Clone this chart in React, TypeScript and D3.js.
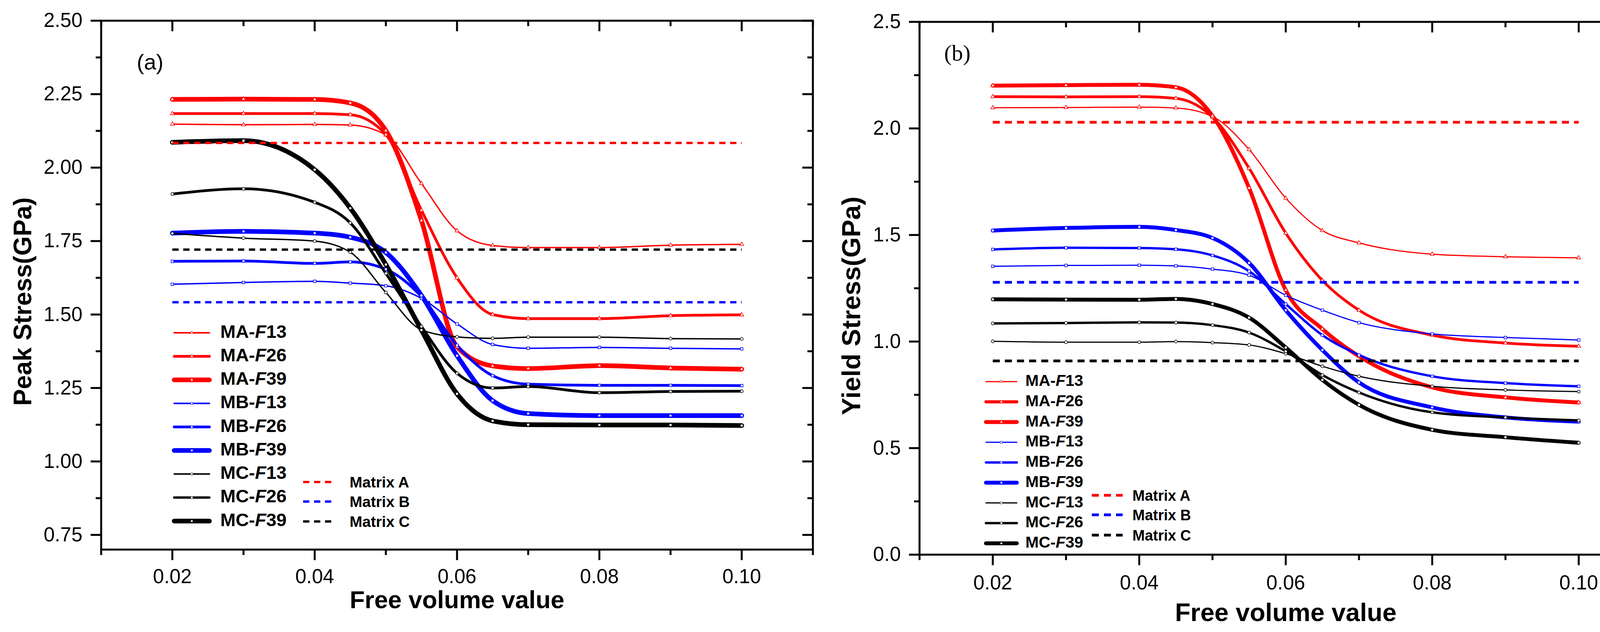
import React from "react";
import * as d3 from "d3";

// free volume values where the curves were sampled
const freeVolume = [0.02, 0.03, 0.04, 0.045, 0.05, 0.055, 0.06, 0.065, 0.07, 0.08, 0.09, 0.1];

// (a) peak stress, GPa
const peakMAF13 = [2.148, 2.146, 2.147, 2.145, 2.111, 1.946, 1.785, 1.735, 1.728, 1.728, 1.736, 1.739];
const peakMAF26 = [2.184, 2.184, 2.184, 2.18, 2.112, 1.855, 1.625, 1.5, 1.486, 1.486, 1.496, 1.499];
const peakMAF39 = [2.232, 2.233, 2.232, 2.22, 2.126, 1.82, 1.39, 1.325, 1.316, 1.326, 1.318, 1.314];
const peakMBF13 = [1.603, 1.609, 1.613, 1.607, 1.598, 1.555, 1.468, 1.398, 1.385, 1.388, 1.385, 1.383];
const peakMBF26 = [1.681, 1.682, 1.674, 1.679, 1.654, 1.561, 1.395, 1.292, 1.263, 1.259, 1.259, 1.258];
const peakMBF39 = [1.777, 1.783, 1.777, 1.763, 1.711, 1.565, 1.36, 1.207, 1.163, 1.156, 1.156, 1.156];
const peakMCF13 = [1.776, 1.76, 1.75, 1.712, 1.575, 1.448, 1.424, 1.419, 1.423, 1.423, 1.418, 1.417];
const peakMCF26 = [1.91, 1.928, 1.882, 1.812, 1.64, 1.459, 1.3, 1.25, 1.255, 1.234, 1.238, 1.239];
const peakMCF39 = [2.086, 2.092, 1.993, 1.862, 1.67, 1.447, 1.23, 1.138, 1.125, 1.124, 1.124, 1.122];
const peakMatrix = [2.084, 1.542, 1.721]; // A, B, C

// (b) yield stress, GPa
const yieldMAF13 = [2.097, 2.098, 2.1, 2.096, 2.056, 1.901, 1.673, 1.521, 1.463, 1.41, 1.398, 1.393];
const yieldMAF26 = [2.149, 2.148, 2.149, 2.141, 2.053, 1.813, 1.509, 1.287, 1.147, 1.03, 0.993, 0.978];
const yieldMAF39 = [2.201, 2.203, 2.205, 2.193, 2.059, 1.72, 1.241, 1.059, 0.931, 0.785, 0.738, 0.714];
const yieldMBF13 = [1.353, 1.357, 1.358, 1.355, 1.34, 1.311, 1.217, 1.147, 1.089, 1.036, 1.019, 1.007];
const yieldMBF26 = [1.432, 1.44, 1.439, 1.433, 1.404, 1.33, 1.176, 1.03, 0.937, 0.837, 0.805, 0.79];
const yieldMBF39 = [1.521, 1.533, 1.538, 1.523, 1.486, 1.369, 1.147, 0.96, 0.808, 0.691, 0.644, 0.624];
const yieldMCF13 = [1.001, 0.997, 0.997, 1.0, 0.995, 0.984, 0.943, 0.884, 0.837, 0.79, 0.773, 0.765];
const yieldMCF26 = [1.085, 1.087, 1.09, 1.089, 1.077, 1.042, 0.954, 0.843, 0.761, 0.668, 0.644, 0.63];
const yieldMCF39 = [1.198, 1.197, 1.196, 1.2, 1.176, 1.112, 0.972, 0.82, 0.703, 0.586, 0.551, 0.525];
const yieldMatrix = [2.029, 1.278, 0.909];

const seriesGroups = ["MA", "MA", "MA", "MB", "MB", "MB", "MC", "MC", "MC"];
const seriesF = ["13", "26", "39", "13", "26", "39", "13", "26", "39"];
const matrixNames = ["Matrix A", "Matrix B", "Matrix C"];

const xMajor = [0.02, 0.04, 0.06, 0.08, 0.1];
const xMinor = [0.01, 0.03, 0.05, 0.07, 0.09, 0.11];
const peakYMajor = [0.75, 1.0, 1.25, 1.5, 1.75, 2.0, 2.25, 2.5];
const peakYMinor = [0.875, 1.125, 1.375, 1.625, 1.875, 2.125, 2.375];
const yieldYMajor = [0, 0.5, 1.0, 1.5, 2.0, 2.5];
const yieldYMinor = [0.25, 0.75, 1.25, 1.75, 2.25];

const SANS = "'Liberation Sans', Arial, Helvetica, sans-serif";
const SERIF = "'Liberation Serif', 'Times New Roman', serif";
const groupColor: Record<string, string> = { MA: "#ff0000", MB: "#0000ff", MC: "#000000" };
const groupSymbol: Record<string, d3.SymbolType> = {
  MA: d3.symbolTriangle,
  MB: d3.symbolSquare,
  MC: d3.symbolCircle,
};

interface PanelProps {
  box: { left: number; right: number; top: number; bottom: number };
  yDomain: [number, number];
  yMajor: number[];
  yMinor: number[];
  yFmt: string;
  series: number[][];
  widths: number[];
  matrix: number[];
  dash: { w: number; pattern: string };
  tag: { text: string; x: number; y: number; size: number; family: string };
  yTitle: { text: string; x: number; y: number; size: number };
  xTitle: { y: number; size: number };
  tickLabelY: number;
  legend: { lineX0: number; lineX1: number; textX: number; y0: number; step: number; size: number; widths: number[] };
  matLegend: { lineX0: number; lineX1: number; textX: number; rows: number[]; size: number };
}

function Panel(p: PanelProps) {
  const { box } = p;
  const x = d3.scaleLinear().domain([0.01, 0.11]).range([box.left, box.right]);
  const y = d3.scaleLinear().domain(p.yDomain).range([box.bottom, box.top]);
  const line = d3
    .line<number>()
    .x((_, i) => x(freeVolume[i]))
    .y((d) => y(d))
    .curve(d3.curveMonotoneX);
  const fmtX = d3.format(".2f");
  const fmtY = d3.format(p.yFmt);
  const major = 27;
  const minor = 14;
  const sw = 5;
  const matrixColors = [groupColor.MA, groupColor.MB, groupColor.MC];

  return (
    <g>
      {/* series curves */}
      {p.series.map((vals, i) => (
        <path
          key={"s" + i}
          d={line(vals) ?? ""}
          fill="none"
          stroke={groupColor[seriesGroups[i]]}
          strokeWidth={p.widths[i]}
          strokeLinejoin="round"
          strokeLinecap="round"
        />
      ))}
      {/* hollow markers */}
      {p.series.map((vals, i) =>
        vals.map((v, j) => (
          <path
            key={"m" + i + "-" + j}
            d={d3.symbol(groupSymbol[seriesGroups[i]], 45)() ?? ""}
            transform={`translate(${x(freeVolume[j])},${y(v)})`}
            fill="#fff"
            stroke={groupColor[seriesGroups[i]]}
            strokeWidth={1.5}
          />
        ))
      )}
      {/* matrix reference lines */}
      {p.matrix.map((v, i) => (
        <line
          key={"mx" + i}
          x1={x(0.02)}
          x2={x(0.1)}
          y1={y(v)}
          y2={y(v)}
          stroke={matrixColors[i]}
          strokeWidth={p.dash.w}
          strokeDasharray={p.dash.pattern}
        />
      ))}

      {/* frame */}
      <rect
        x={box.left}
        y={box.top}
        width={box.right - box.left}
        height={box.bottom - box.top}
        fill="none"
        stroke="#000"
        strokeWidth={sw}
      />
      {/* x ticks: outward at bottom, inward at top */}
      {xMajor.concat(xMinor).map((t, i) => {
        const len = i < xMajor.length ? major : minor;
        return (
          <g key={"xt" + i}>
            <line x1={x(t)} x2={x(t)} y1={box.bottom} y2={box.bottom + len} stroke="#000" strokeWidth={sw} />
            <line x1={x(t)} x2={x(t)} y1={box.top} y2={box.top + len} stroke="#000" strokeWidth={sw} />
          </g>
        );
      })}
      {xMajor.map((t) => (
        <text key={"xl" + t} x={x(t)} y={p.tickLabelY} textAnchor="middle" fontFamily={SANS} fontSize={51}>
          {fmtX(t)}
        </text>
      ))}
      {/* y ticks: outward at left, inward at right */}
      {p.yMajor.concat(p.yMinor).map((t, i) => {
        const len = i < p.yMajor.length ? major : minor;
        return (
          <g key={"yt" + i}>
            <line x1={box.left - len} x2={box.left} y1={y(t)} y2={y(t)} stroke="#000" strokeWidth={sw} />
            <line x1={box.right - len} x2={box.right} y1={y(t)} y2={y(t)} stroke="#000" strokeWidth={sw} />
          </g>
        );
      })}
      {p.yMajor.map((t) => (
        <text
          key={"yl" + t}
          x={box.left - major - 21}
          y={y(t)}
          dy="0.32em"
          textAnchor="end"
          fontFamily={SANS}
          fontSize={51}
        >
          {fmtY(t)}
        </text>
      ))}

      {/* titles */}
      <text
        transform={`translate(${p.yTitle.x},${p.yTitle.y}) rotate(-90)`}
        textAnchor="middle"
        fontFamily={SANS}
        fontWeight="bold"
        fontSize={p.yTitle.size}
      >
        {p.yTitle.text}
      </text>
      <text
        x={(box.left + box.right) / 2}
        y={p.xTitle.y}
        textAnchor="middle"
        fontFamily={SANS}
        fontWeight="bold"
        fontSize={p.xTitle.size}
      >
        Free volume value
      </text>
      <text x={p.tag.x} y={p.tag.y} fontFamily={p.tag.family} fontSize={p.tag.size}>
        {p.tag.text}
      </text>

      {/* series legend */}
      {seriesGroups.map((g, i) => {
        const ly = p.legend.y0 + i * p.legend.step;
        const cx = (p.legend.lineX0 + p.legend.lineX1) / 2;
        return (
          <g key={"lg" + i}>
            <line
              x1={p.legend.lineX0}
              x2={p.legend.lineX1}
              y1={ly}
              y2={ly}
              stroke={groupColor[g]}
              strokeWidth={p.legend.widths[i]}
              strokeLinecap="round"
            />
            <path
              d={d3.symbol(groupSymbol[g], 30)() ?? ""}
              transform={`translate(${cx},${ly})`}
              fill="#fff"
              stroke={groupColor[g]}
              strokeWidth={1}
            />
            <text
              x={p.legend.textX}
              y={ly}
              dy="0.27em"
              fontFamily={SANS}
              fontWeight="bold"
              fontSize={p.legend.size}
            >
              {g + "-"}
              <tspan fontStyle="italic">F</tspan>
              {seriesF[i]}
            </text>
          </g>
        );
      })}
      {/* matrix legend */}
      {matrixNames.map((name, i) => {
        const ly = p.matLegend.rows[i];
        return (
          <g key={"ml" + i}>
            <line
              x1={p.matLegend.lineX0}
              x2={p.matLegend.lineX1}
              y1={ly}
              y2={ly}
              stroke={matrixColors[i]}
              strokeWidth={p.dash.w}
              strokeDasharray={p.dash.pattern}
            />
            <text
              x={p.matLegend.textX}
              y={ly}
              dy="0.36em"
              fontFamily={SANS}
              fontWeight="bold"
              fontSize={p.matLegend.size}
            >
              {name}
            </text>
          </g>
        );
      })}
    </g>
  );
}

export default function App() {
  return (
    <svg
      width={4268}
      height={1618}
      viewBox="0 0 4268 1618"
      style={{ position: "absolute", left: 0, top: 0, background: "#fff" }}
    >
      <rect width={4268} height={1618} fill="#fff" />
      <Panel
        box={{ left: 259, right: 2081, top: 53, bottom: 1407 }}
        yDomain={[0.7, 2.5]}
        yMajor={peakYMajor}
        yMinor={peakYMinor}
        yFmt=".2f"
        series={[peakMAF13, peakMAF26, peakMAF39, peakMBF13, peakMBF26, peakMBF39, peakMCF13, peakMCF26, peakMCF39]}
        widths={[3.5, 7, 12, 3.5, 7, 12, 3.5, 7, 12]}
        matrix={peakMatrix}
        dash={{ w: 6, pattern: "16,12" }}
        tag={{ text: "(a)", x: 350, y: 178, size: 56, family: SANS }}
        yTitle={{ text: "Peak Stress(GPa)", x: 80, y: 772, size: 64 }}
        xTitle={{ y: 1557, size: 63 }}
        tickLabelY={1493}
        legend={{ lineX0: 446, lineX1: 536, textX: 564, y0: 852, step: 60.25, size: 47, widths: [4, 7, 12, 4, 7, 12, 4, 6, 12] }}
        matLegend={{ lineX0: 776, lineX1: 849, textX: 895, rows: [1234, 1284, 1335], size: 39 }}
      />
      <Panel
        box={{ left: 2354, right: 4229, top: 56, bottom: 1420 }}
        yDomain={[0, 2.5]}
        yMajor={yieldYMajor}
        yMinor={yieldYMinor}
        yFmt=".1f"
        series={[yieldMAF13, yieldMAF26, yieldMAF39, yieldMBF13, yieldMBF26, yieldMBF39, yieldMCF13, yieldMCF26, yieldMCF39]}
        widths={[3, 7, 10, 3, 6, 10, 3, 6, 10]}
        matrix={yieldMatrix}
        dash={{ w: 7, pattern: "18,13" }}
        tag={{ text: "(b)", x: 2417, y: 155, size: 58, family: SERIF }}
        yTitle={{ text: "Yield Stress(GPa)", x: 2202, y: 783, size: 67 }}
        xTitle={{ y: 1590, size: 65 }}
        tickLabelY={1509}
        legend={{ lineX0: 2524, lineX1: 2603, textX: 2625, y0: 977, step: 51.75, size: 41, widths: [3, 8, 10, 3, 6, 10, 3, 6, 10] }}
        matLegend={{ lineX0: 2795, lineX1: 2874, textX: 2899, rows: [1268, 1318, 1370], size: 38 }}
      />
    </svg>
  );
}
